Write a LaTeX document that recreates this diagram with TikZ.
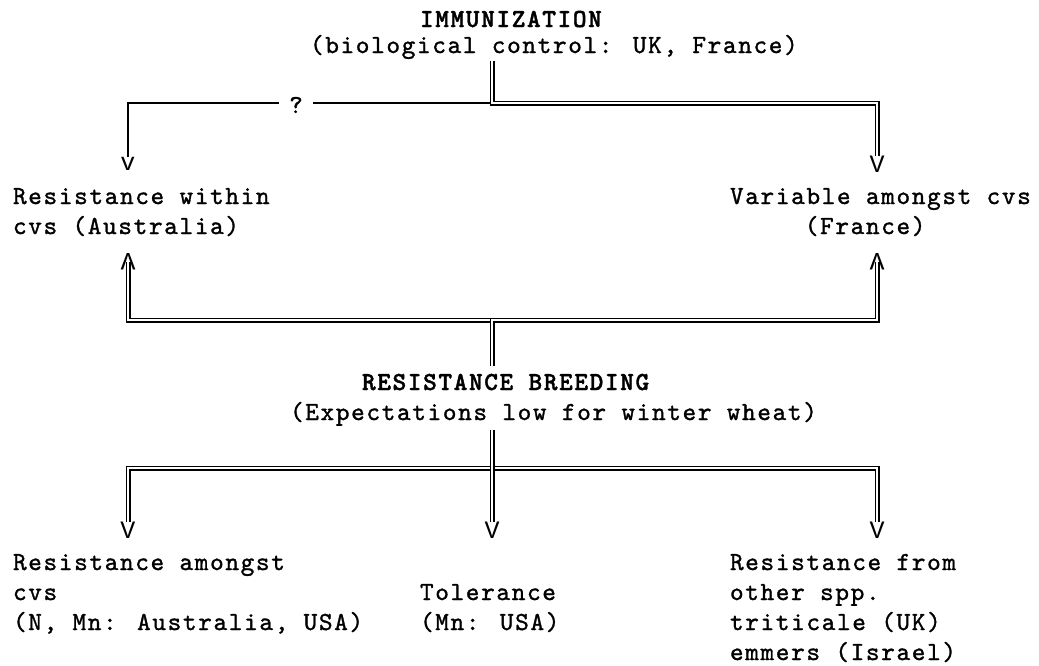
\documentclass[tikz,border=0pt]{standalone}
\usepackage{fontspec}
\usepackage{graphicx}
\newfontfamily\tw{lmmono10-regular}[Extension=.otf, BoldFont=lmmonolt10-bold, LetterSpace=6.3, FakeBold=1.2, BoldFeatures={FakeBold=1.5}]
\newfontfamily\hd{Liberation Mono}
\tikzset{
  txt/.style={font=\tw\fontsize{26}{30}\selectfont, inner sep=0pt, outer sep=0pt, align=left, anchor=base west},
  hdtxt/.style={txt, font=\tw\bfseries\fontsize{26}{30}\selectfont},
  tip/.style={font=\hd\fontsize{25}{30}\selectfont, inner sep=0pt, outer sep=0pt},
  dbl/.style={draw=black, double=white, double distance=2.4pt, line width=1.3pt},
  sgl/.style={draw=black, line width=1.3pt}
}
\begin{document}
\begin{tikzpicture}[x=1pt, y=-1pt]
\useasboundingbox[fill=white] (0,0) rectangle (1039,665);

% top block
\node[hdtxt] (imm) at (420,27) {IMMUNIZATION};
\node[txt] (bio) at (310,53) {(biological control: UK, France)};

% arrow tips
\node[tip] (vL) at (128,164) {v};
\node[tip] (vR) at (877,164) {V};
\node[tip] (uL) at (128,262) {\rotatebox[origin=c]{180}{V}};
\node[tip] (uR) at (877,262) {\rotatebox[origin=c]{180}{V}};
\node[tip] (vB1) at (128,530) {V};
\node[tip] (vB2) at (492,530) {V};
\node[tip] (vB3) at (877,530) {V};

% question mark
\node[txt, anchor=center] (q) at (296,105) {?};

% second row texts (anchor on last baseline)
\node[txt] (lw) at (13,234) {Resistance within\\cvs (Australia)};
\node[txt] (rv) at (730,234) {Variable amongst cvs\\\hphantom{Varia}(France)};

% breeding block
\node[hdtxt] (rb) at (362,390) {RESISTANCE BREEDING};
\node[txt] (exp) at (290,420) {(Expectations low for winter wheat)};

% bottom texts (anchor on last baseline)
\node[txt] (b1) at (13,630) {Resistance amongst\\cvs\\(N, Mn: Australia, USA)};
\node[txt] (b2) at (420,630) {Tolerance\\(Mn: USA)};
\node[txt] (b3) at (730,660) {Resistance from\\other spp.\\triticale (UK)\\emmers (Israel)};

% junctions
\coordinate (jt) at (492,103);
\coordinate (jm) at (492,320);
\coordinate (jb) at (492,468);

% top connectors
\draw[dbl] ([yshift=-2pt]bio.south -| jt) -- (jt) -| (vR.north);
\draw[sgl] ([xshift=-10pt]q.west |- jt) -| (vL.north);
\draw[sgl] ([xshift=10pt]q.east |- jt) -- ([xshift=-2.5pt]jt);

% middle connectors
\draw[dbl] ([yshift=8pt]rb.north -| jm) -- (jm) -| ([yshift=8pt]uL.south);
\draw[dbl] ([yshift=8pt]rb.north -| jm) -- (jm) -| ([yshift=8pt]uR.south);

% bottom connectors
\draw[dbl] (vB1.north) |- (jb);
\draw[dbl] (jb) -| (vB3.north);
\draw[dbl] ([yshift=-4pt]exp.south -| jb) -- (vB2.north);
\end{tikzpicture}
\end{document}
